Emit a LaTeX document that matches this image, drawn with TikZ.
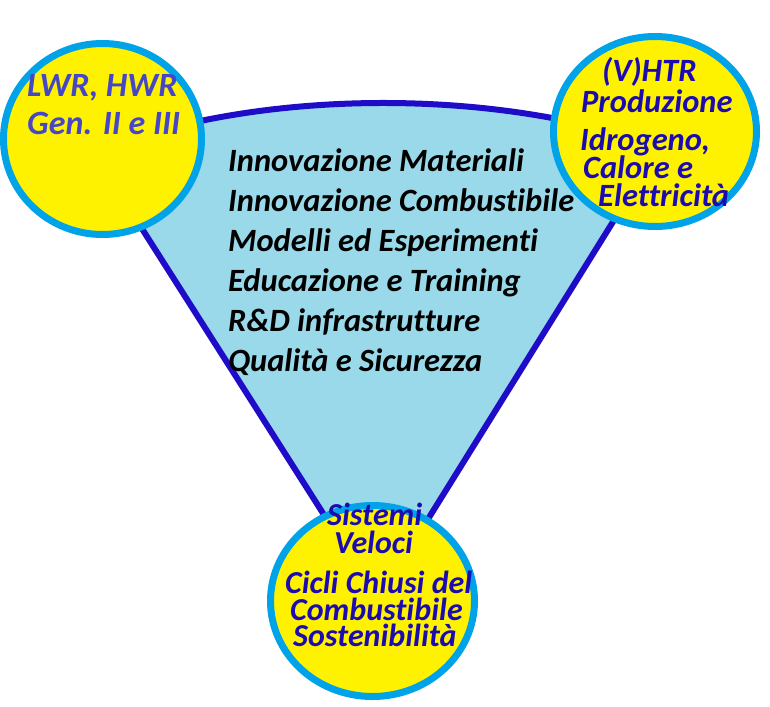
\documentclass[tikz,border=0pt]{standalone}
\usepackage{fontspec}
\setmainfont{Carlito}[Ligatures={NoCommon}]
\usetikzlibrary{shapes.geometric}
\definecolor{paleblue}{HTML}{99D9EA}
\definecolor{ringblue}{HTML}{00A2E8}
\definecolor{sunyellow}{HTML}{FFF200}
\definecolor{edgeblue}{HTML}{1E0CC8}
\definecolor{inkblue}{HTML}{1C0CB0}
\definecolor{softblue}{HTML}{4646C8}
\begin{document}
\begin{tikzpicture}[x=1pt,y=-1pt,
  reactor/.style={ellipse,draw=ringblue,fill=sunyellow,line width=7pt,inner sep=0pt},
  topic/.style={anchor=base west,inner sep=0pt,font=\fontsize{32.5}{36}\selectfont\bfseries\itshape},
  tag/.style={anchor=base west,inner sep=0pt,text=inkblue,text height=21pt,text depth=2pt,
    font=\fontsize{32.5}{36}\selectfont\bfseries\itshape},
  smalltag/.style={tag,text height=20pt,text depth=1pt,font=\fontsize{32}{34}\selectfont\bfseries\itshape}]
\useasboundingbox (0,0) rectangle (770,706);
\coordinate (lowleft) at (340,540);
\coordinate (upleft) at (111,180);
\coordinate (arcstart) at (170,128);
\coordinate (arcend) at (590,126);
\coordinate (upright) at (639,180);
\coordinate (lowright) at (415,540);
\draw[fill=paleblue,draw=edgeblue,line width=6pt,line join=round]
  (lowleft) -- (upleft) -- (arcstart) .. controls (300,95) and (460,95) .. (arcend)
  -- (upright) -- (lowright) -- cycle;
\node[reactor,minimum width=198pt,minimum height=191pt] (lwr) at (102.5,139) {};
\node[reactor,minimum width=203pt,minimum height=190pt] (vhtr) at (655,131.5) {};
\node[reactor,minimum width=204pt,minimum height=191pt] (fast) at (372.5,601) {};
\node[topic] (materials) at (228,171) {Innovazione Materiali};
\node[topic] (fuel) at (228,211) {Innovazione Combustibile};
\node[topic] (models) at (228,251) {Modelli ed Esperimenti};
\node[topic] (training) at (228,291) {Educazione e Training};
\node[topic] (infra) at (228,331) {R\&D infrastrutture};
\node[topic] (safety) at (228,371) {Qualità e Sicurezza};
\node[tag,text=softblue,font=\fontsize{34}{36}\selectfont\bfseries\itshape] (lwrname) at (27,97) {LWR, HWR};
\node[tag,text=softblue,font=\fontsize{34}{36}\selectfont\bfseries\itshape] (lwrgen) at (27,135) {Gen. II e III};
\node[tag] (vhtrname) at (602,82) {(V)HTR};
\node[tag] (vhtrprod) at (581,113) {Produzione};
\node[tag] (vhtrhyd) at (580,150) {Idrogeno,};
\node[tag] (vhtrheat) at (583,178) {Calore e};
\node[tag] (vhtrpower) at (598,206) {Elettricità};
\node[smalltag] (fastname) at (327,525) {Sistemi};
\node[smalltag] (fastkind) at (334,553) {Veloci};
\node[smalltag] (fastcycle) at (285,593) {Cicli Chiusi del};
\node[smalltag] (fastfuel) at (290,620) {Combustibile};
\node[smalltag] (fastsust) at (293,646) {Sostenibilità};
\end{tikzpicture}
\end{document}
